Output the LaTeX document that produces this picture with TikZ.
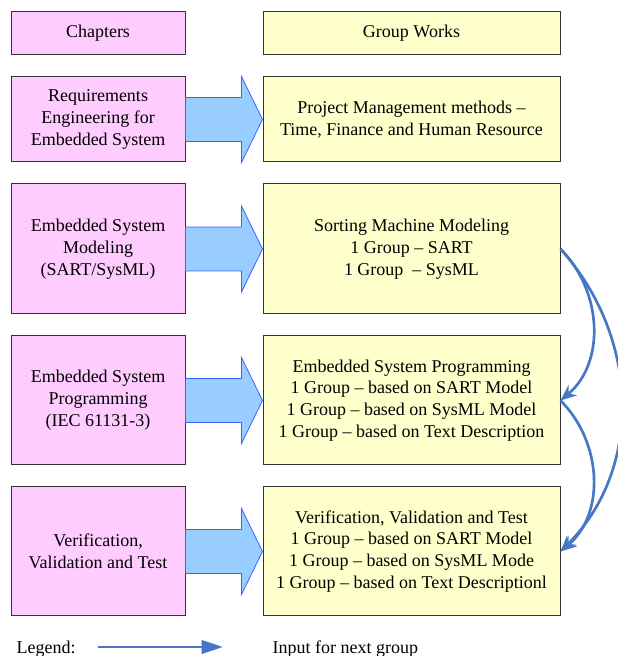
\documentclass[tikz,border=0pt]{standalone}
\usepackage{fontspec}
\setmainfont{Liberation Serif}
\usetikzlibrary{positioning, calc, arrows.meta}

\definecolor{chappink}{HTML}{FFCCFF}
\definecolor{workyellow}{HTML}{FFFFCC}
\definecolor{arrfill}{HTML}{99CCFF}
\definecolor{arrline}{HTML}{3366FF}
\definecolor{flowblue}{RGB}{70,118,196}

\begin{document}
\begin{tikzpicture}[x=0.75pt, y=0.75pt,
    every node/.style={font=\fontsize{13.5}{16.4}\selectfont},
    chap/.style={draw=black!80, line width=0.75pt, fill=chappink, align=center,
      minimum width=130.5pt, inner sep=0pt},
    work/.style={draw=black!80, line width=0.75pt, fill=workyellow, align=center,
      minimum width=222.75pt, inner sep=0pt},
    blockarr/.style={fill=arrfill, draw=arrline, line width=0.6pt, line join=miter},
    nextgrp/.style={draw=flowblue, line width=2pt, -{Stealth[length=12pt, width=10pt]}}]
    \useasboundingbox (0,0) rectangle (617,656);
    % Kapitel links
    \node[chap, minimum height=32.25pt] (c0) at (98,622.5) {Chapters};
    \node[chap, minimum height=63.75pt] (c1) at (98,536.5) {Requirements\\ Engineering for\\ Embedded System};
    \node[chap, minimum height=97.5pt] (c2) at (98,407) {Embedded System\\ Modeling\\ (SART/SysML)};
    \node[chap, minimum height=96.75pt] (c3) at (98,255.5) {Embedded System\\ Programming\\ (IEC 61131-3)};
    \node[chap, minimum height=96.75pt] (c4) at (98,104.5) {Verification,\\ Validation and Test};
    % Gruppenarbeiten rechts
    \node[work, minimum height=32.25pt] (g0) at (411.5,622.5) {Group Works};
    \node[work, minimum height=63.75pt] (g1) at (411.5,536.5) {Project Management methods --\\ Time, Finance and Human Resource};
    \node[work, minimum height=97.5pt] (g2) at (411.5,407) {Sorting Machine Modeling\\ 1 Group -- SART\\ 1 Group \ -- SysML};
    \node[work, minimum height=96.75pt] (g3) at (411.5,255.5) {Embedded System Programming\\ 1 Group -- based on SART Model\\ 1 Group -- based on SysML Model\\ 1 Group -- based on Text Description};
    \node[work, minimum height=96.75pt] (g4) at (411.5,104.5) {Verification, Validation and Test\\ 1 Group -- based on SART Model\\ 1 Group -- based on SysML Mode\\ 1 Group -- based on Text Descriptionl};
    % Blockpfeile
    \foreach \i in {1,...,4} {
      \draw[blockarr] ($(c\i.east)+(0,22)$) -- ($(g\i.west)+(-21,22)$) -- ($(g\i.west)+(-21,43)$)
        -- (g\i.west) -- ($(g\i.west)+(-21,-43)$) -- ($(g\i.west)+(-21,-22)$) -- ($(c\i.east)+(0,-22)$);
    }
    % Input fuer naechste Gruppe
    \draw[nextgrp] (g2.east) to[out=-45, in=40] (g3.east);
    \draw[nextgrp] (g2.east) to[out=-48, in=45] (g4.east);
    \draw[nextgrp] (g3.east) to[out=-45, in=40] (g4.east);
    % Legende
    \node[anchor=west] (leg) at (12,7) {Legend:};
    \coordinate (la) at (98,9);
    \coordinate (lb) at (223,9);
    \draw[draw=flowblue, line width=2.2pt, -{Triangle[length=16pt, width=10pt]}] (la) -- (lb);
    \node[anchor=west] (inp) at (268,7) {Input for next group};
\end{tikzpicture}
\end{document}
